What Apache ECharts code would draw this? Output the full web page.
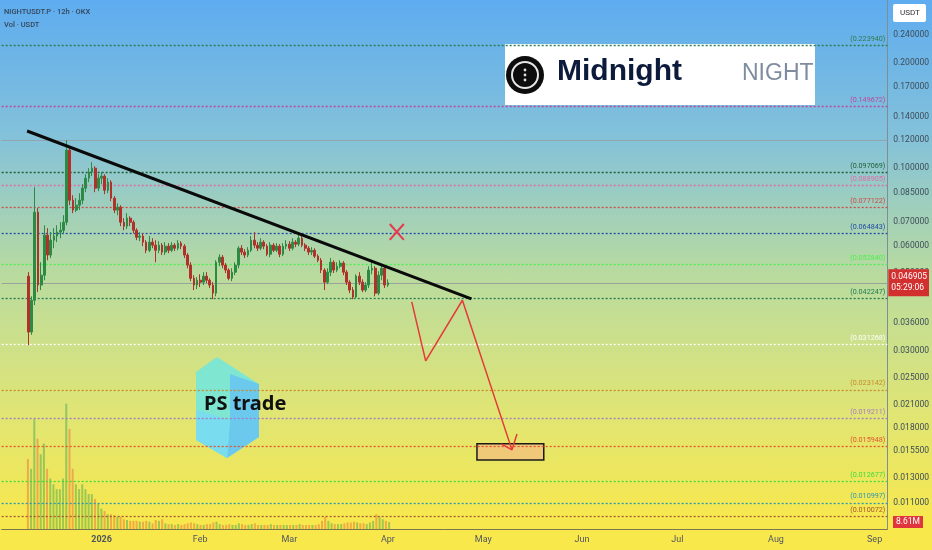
<!DOCTYPE html>
<html>
<head>
<meta charset="utf-8">
<script src="https://cdn.jsdelivr.net/npm/echarts@6/dist/echarts.min.js"></script>
<style>
html,body{margin:0;padding:0;}
#main{width:932px;height:550px;background:linear-gradient(to bottom,#5eacf0 0%,#84c2da 25%,#b9db9f 50%,#e0e574 75%,#f7e84d 95%,#f9e84a 100%);}
</style>
</head>
<body>
<div id="main"></div>
<script>
// ---------- DATA ----------
const candleStart = [2025, 11, 9]; // 9 Dec 2025, daily bars
const opens = [0.0490,0.0339,0.0418,0.0747,0.0462,0.0493,0.0642,0.0563,0.0621,0.0638,0.0655,0.0663,0.0699,0.1124,0.0808,0.0757,0.0782,0.0808,0.0875,0.0934,0.0972,0.0998,0.0875,
0.0934,0.0947,0.0863,0.0910,0.0819,0.0757,0.0772,0.0699,0.0681,0.0718,0.0699,0.0663,0.0633,0.0638,0.0613,0.0581,0.0613,0.0601,0.0581,0.0601,0.0574,0.0597,0.0581,0.0601,0.0589,0.0609,0.0597,0.0563,0.0527,0.0483,0.0462,0.0477,0.0471,0.0490,0.0477,0.0462,0.0438,0.0537,0.0555,0.0527,0.0510,0.0483,0.0503,0.0527,0.0589,0.0574,0.0563,0.0581,0.0621,0.0601,0.0589,0.0613,0.0597,0.0566,0.0601,0.0581,0.0597,0.0566,0.0597,0.0605,0.0589,0.0613,0.0605,0.0629,0.0601,0.0589,0.0574,0.0581,0.0559,0.0544,0.0510,0.0471,0.0503,0.0537,0.0510,0.0523,0.0534,0.0503,0.0471,0.0447,0.0427,0.0490,0.0471,0.0447,0.0462,0.0510,0.0516,0.0438,0.0493,0.0516,0.0462];
const closes = [0.0339,0.0418,0.0747,0.0462,0.0493,0.0642,0.0563,0.0621,0.0638,0.0655,0.0663,0.0699,0.1124,0.0808,0.0757,0.0782,0.0808,0.0875,0.0934,0.0972,0.0998,0.0875,0.0934,
0.0947,0.0863,0.0910,0.0819,0.0757,0.0772,0.0699,0.0681,0.0718,0.0699,0.0663,0.0633,0.0638,0.0613,0.0581,0.0613,0.0601,0.0581,0.0601,0.0574,0.0597,0.0581,0.0601,0.0589,0.0609,0.0597,0.0563,0.0527,0.0483,0.0462,0.0477,0.0471,0.0490,0.0477,0.0462,0.0438,0.0537,0.0555,0.0527,0.0510,0.0483,0.0503,0.0527,0.0589,0.0574,0.0563,0.0581,0.0621,0.0601,0.0589,0.0613,0.0597,0.0566,0.0601,0.0581,0.0597,0.0566,0.0597,0.0605,0.0589,0.0613,0.0605,0.0629,0.0601,0.0589,0.0574,0.0581,0.0559,0.0544,0.0510,0.0471,0.0503,0.0537,0.0510,0.0523,0.0534,0.0503,0.0471,0.0447,0.0427,0.0490,0.0471,0.0447,0.0462,0.0510,0.0516,0.0438,0.0493,0.0516,0.0462,0.046905];
const lows = [0.0311,0.0333,0.0405,0.0441,0.0447,0.0477,0.0544,0.0552,0.0589,0.0613,0.0629,0.0646,0.0685,0.0782,0.0742,0.0747,0.0757,0.0787,0.0852,0.0910,0.0947,0.0852,0.0858,
0.0898,0.0841,0.0846,0.0803,0.0742,0.0732,0.0681,0.0663,0.0668,0.0681,0.0650,0.0621,0.0617,0.0597,0.0570,0.0574,0.0589,0.0537,0.0570,0.0563,0.0563,0.0570,0.0574,0.0578,0.0581,0.0585,0.0552,0.0516,0.0474,0.0447,0.0450,0.0456,0.0462,0.0468,0.0453,0.0421,0.0429,0.0523,0.0516,0.0500,0.0477,0.0474,0.0493,0.0516,0.0563,0.0552,0.0555,0.0574,0.0589,0.0578,0.0581,0.0585,0.0559,0.0555,0.0574,0.0574,0.0555,0.0559,0.0585,0.0578,0.0581,0.0593,0.0597,0.0593,0.0578,0.0563,0.0563,0.0552,0.0537,0.0500,0.0447,0.0465,0.0490,0.0500,0.0503,0.0516,0.0493,0.0462,0.0438,0.0421,0.0424,0.0462,0.0441,0.0441,0.0453,0.0496,0.0429,0.0432,0.0477,0.0453,0.0456];
const highs = [0.0503,0.0429,0.0880,0.0767,0.0537,0.0685,0.0672,0.0655,0.0672,0.0685,0.0699,0.0732,0.1200,0.1153,0.0835,0.0819,0.0846,0.0898,0.0959,0.0998,0.1038,0.1011,0.0959,
0.0972,0.0959,0.0934,0.0922,0.0830,0.0792,0.0782,0.0718,0.0742,0.0727,0.0708,0.0672,0.0655,0.0650,0.0621,0.0638,0.0629,0.0621,0.0617,0.0609,0.0613,0.0609,0.0613,0.0609,0.0621,0.0617,0.0605,0.0570,0.0537,0.0493,0.0487,0.0496,0.0503,0.0503,0.0483,0.0471,0.0544,0.0566,0.0563,0.0534,0.0516,0.0516,0.0537,0.0597,0.0601,0.0585,0.0593,0.0638,0.0655,0.0613,0.0629,0.0621,0.0605,0.0613,0.0609,0.0609,0.0605,0.0609,0.0621,0.0617,0.0629,0.0621,0.0646,0.0638,0.0609,0.0597,0.0593,0.0589,0.0566,0.0552,0.0516,0.0516,0.0552,0.0544,0.0537,0.0544,0.0541,0.0510,0.0477,0.0456,0.0496,0.0503,0.0480,0.0471,0.0523,0.0537,0.0523,0.0506,0.0530,0.0523,0.0480];
const volumesM = [86,74,135,111,92,105,74,62,55,49,49,62,154,123,74,55,49,55,49,43,43,37,31,
25,22,18,18,17,15,15,12,11,10,10,10,9,9,10,9,7,11,10,12,7,6,6,5,6,5,6,7,8,7,6,5,5,6,6,8,9,6,5,5,6,5,5,7,6,5,5,6,7,5,5,5,5,6,5,5,5,5,5,5,5,5,6,5,5,5,5,5,6,10,15,10,7,6,6,6,7,8,8,9,8,7,7,6,8,10,18,15,12,10,8.61];

const priceTicks = [0.24,0.2,0.17,0.14,0.12,0.1,0.085,0.07,0.06,0.05,0.036,0.03,0.025,0.021,0.018,0.0155,0.013,0.011];
const monthNames = ['2026','Feb','Mar','Apr','May','Jun','Jul','Aug','Sep','Oct','Nov',''];

const levelValues = [0.223940,0.149672,0.097069,0.088905,0.077122,0.064843,0.052840,0.042247,0.031268,0.023142,0.019211,0.015948,0.012677,0.010997,0.010072];
const levelColors = ['#2f7d4f','#c0479a','#1f5e35','#e46aa6','#d04848','#2049a8','#4cf04c','#1f7a55','#ffffff','#c98a2a','#a67ac8','#e2552e','#3ddc3d','#2b97b4','#a5552f'];
const lastPrice = 0.046905;
const lastVolumeM = 8.61;

const trendDates = ['2025-12-08 14:00','2026-04-27 06:00'];
const trendPrices = [0.1275,0.0422];
const pathDates = ['2026-04-08 12:00','2026-04-12 21:00','2026-04-24 10:00','2026-05-10 00:00'];
const pathPrices = [0.04135,0.02803,0.0418,0.0156];
const headDates = ['2026-05-06 14:00','2026-05-10 00:00','2026-05-11 14:00'];
const headPrices = [0.01623,0.0156,0.01733];
const crossDates = ['2026-04-01 14:00','2026-04-06 00:00'];
const crossHigh = 0.0691, crossLow = 0.0622;
const targetDates = ['2026-04-29 00:00','2026-05-20 00:00'];
const targetPrices = [0.01623,0.0146];

// ---------- BUILD ----------
const times = opens.map((_, i) => new Date(candleStart[0], candleStart[1], candleStart[2] + i).getTime());
const candleData = times.map((t, i) => [t, opens[i], closes[i], lows[i], highs[i]]);
const volData = times.map((t, i) => ({
  value: [t, volumesM[i]],
  itemStyle: { color: closes[i] >= opens[i] ? 'rgba(50,160,80,0.45)' : 'rgba(235,95,60,0.45)' }
}));
const xMin = new Date(2025, 10, 30, 14, 0).getTime();
const xMax = new Date(2026, 8, 5, 0, 0).getTime();
const ts = s => new Date(s.replace(' ', 'T')).getTime();
const DAY = 86400000;

const chart = echarts.init(document.getElementById('main'));
const lvlLines = levelValues.map((v, i) => ({
  yAxis: v,
  lineStyle: { color: levelColors[i], type: [2, 2], width: 1.3 },
  label: { show: true, position: 'insideEndTop', formatter: '(' + v.toFixed(6) + ')', color: levelColors[i], fontSize: 7.2, fontFamily: 'Roboto', distance: [2, 3] }
}));
lvlLines.push({ yAxis: 0.12, lineStyle: { color: '#8fa6ae', type: 'solid', width: 1 }, label: { show: false } });
lvlLines.push({
  yAxis: lastPrice, lineStyle: { color: '#9aa39a', type: 'solid', width: 1 },
  label: { show: true, position: 'end', distance: 1, formatter: lastPrice.toFixed(6) + '\n05:29:06', color: '#fff', backgroundColor: '#d2302f', padding: [3, 2, 2, 3], fontSize: 8.5, lineHeight: 11, fontFamily: 'Roboto' }
});

const xCommon = { type: 'time', min: xMin, max: xMax, boundaryGap: false };

chart.setOption({
  animation: false,
  grid: [
    { left: 0, right: 40, top: 0, bottom: 21 },
    { left: 0, right: 40, bottom: 21, height: 135 }
  ],
  xAxis: [
    Object.assign({}, xCommon, { gridIndex: 0, splitNumber: 10, minInterval: 28 * DAY, maxInterval: 31 * DAY,
      axisLine: { show: true, lineStyle: { color: '#7a7650', width: 1 } },
      axisTick: { show: false }, splitLine: { show: false },
      axisLabel: { margin: 6, fontSize: 9, color: '#4f5560', fontFamily: 'Roboto', hideOverlap: false,
        formatter: v => { const d = new Date(v); if (d.getDate() !== 1) return ''; const m = d.getMonth(); return m === 0 ? '{b|2026}' : monthNames[m]; },
        rich: { b: { fontWeight: 'bold', fontSize: 9, color: '#4f5560', fontFamily: 'Roboto' } } } }),
    Object.assign({}, xCommon, { gridIndex: 1, show: false })
  ],
  yAxis: [
    { type: 'log', logBase: 10, gridIndex: 0, min: 0.009262, max: 0.3022, position: 'right',
      axisLine: { show: true, lineStyle: { color: '#7d8e94' } }, axisTick: { show: false }, splitLine: { show: false },
      axisLabel: { customValues: priceTicks, formatter: v => Number(v).toFixed(6), fontSize: 8.5, color: '#3d4c58', margin: 6, fontFamily: 'Roboto' } },
    { type: 'value', gridIndex: 1, min: 0, max: 166, show: false }
  ],
  series: [
    { type: 'bar', xAxisIndex: 1, yAxisIndex: 1, data: volData, barWidth: 2, z: 1,
      markLine: { symbol: 'none', silent: true, precision: 4, data: [{ yAxis: lastVolumeM, lineStyle: { color: 'rgba(0,0,0,0)', width: 0 },
        label: { show: true, position: 'end', distance: 1, formatter: lastVolumeM + 'M', color: '#fff', backgroundColor: '#e0353d', padding: [2, 3, 1, 3], fontSize: 8.5, fontFamily: 'Roboto' } }] } },
    { type: 'candlestick', xAxisIndex: 0, yAxisIndex: 0, data: candleData, barWidth: 2.2, z: 5,
      itemStyle: { color: '#2c8a45', color0: '#b0302a', borderColor: '#2c8a45', borderColor0: '#b0302a', borderWidth: 1 },
      markLine: { symbol: 'none', silent: true, precision: 8, z: 2, data: lvlLines } },
    { type: 'line', data: trendDates.map((d, i) => [ts(d), trendPrices[i]]), symbol: 'none', z: 6,
      lineStyle: { color: '#0a0a0a', width: 3 } },
    { type: 'line', data: pathDates.map((d, i) => [ts(d), pathPrices[i]]), symbol: 'none', z: 6,
      lineStyle: { color: '#e5393a', width: 1.5 } },
    { type: 'line', data: headDates.map((d, i) => [ts(d), headPrices[i]]), symbol: 'none', z: 6,
      lineStyle: { color: '#e5393a', width: 1.5 } },
    { type: 'line', data: [[ts(crossDates[0]), crossHigh], [ts(crossDates[1]), crossLow]], symbol: 'none', z: 6,
      lineStyle: { color: '#e8384f', width: 2 } },
    { type: 'line', data: [[ts(crossDates[0]), crossLow], [ts(crossDates[1]), crossHigh]], symbol: 'none', z: 6,
      lineStyle: { color: '#e8384f', width: 2 } },
    { type: 'line', data: [], symbol: 'none', z: 4,
      markArea: { silent: true, itemStyle: { color: '#f0c978', borderColor: '#1a1a1a', borderWidth: 1.5 },
        data: [[{ xAxis: ts(targetDates[0]), yAxis: targetPrices[0] }, { xAxis: ts(targetDates[1]), yAxis: targetPrices[1] }]] } }
  ],
  graphic: [
    { type: 'text', left: 4, top: 8, style: { text: 'NIGHTUSDT.P · 12h · OKX', fill: '#34465a', font: '500 7.5px Roboto' } },
    { type: 'text', left: 4, top: 21, style: { text: 'Vol · USDT', fill: '#34465a', font: '500 7.5px Roboto' } },
    { type: 'rect', left: 893, top: 4, shape: { width: 33, height: 18, r: 2 }, style: { fill: '#ffffff' } },
    { type: 'text', left: 900, top: 9, style: { text: 'USDT', fill: '#333', font: '8px Roboto' } },
    { type: 'rect', left: 505, top: 44, shape: { width: 310, height: 61 }, style: { fill: '#ffffff' } },
    { type: 'circle', shape: { cx: 525, cy: 75, r: 19 }, style: { fill: '#0d0d0d' } },
    { type: 'circle', shape: { cx: 525, cy: 75, r: 13 }, style: { fill: 'none', stroke: '#e6e6e6', lineWidth: 2 } },
    { type: 'circle', shape: { cx: 525, cy: 70, r: 1.4 }, style: { fill: '#ddd' } },
    { type: 'circle', shape: { cx: 525, cy: 75, r: 1.4 }, style: { fill: '#ddd' } },
    { type: 'circle', shape: { cx: 525, cy: 80, r: 1.4 }, style: { fill: '#ddd' } },
    { type: 'text', left: 557, top: 57, style: { text: 'Midnight', fill: '#0c1b3c', font: 'bold 30px "Liberation Sans"' } },
    { type: 'text', left: 742, top: 62, style: { text: 'NIGHT', fill: '#7f8ca0', font: '23px "Liberation Sans"' } },
    { type: 'polygon', shape: { points: [[217,357],[259,384],[259,437],[227,458],[196,440],[196,372]] }, style: { fill: '#7fe6d2' } },
    { type: 'polygon', shape: { points: [[230,374],[259,384],[259,437],[227,458],[230,420]] }, style: { fill: '#6cc9ee' } },
    { type: 'polygon', shape: { points: [[196,410],[230,420],[227,458],[196,440]] }, style: { fill: '#79dcef' } },
    { type: 'text', left: 204, top: 394, style: { text: 'PS trade', fill: '#111', font: 'bold 20px "Noto Sans"' } }
  ]
});
</script>
</body>
</html>
